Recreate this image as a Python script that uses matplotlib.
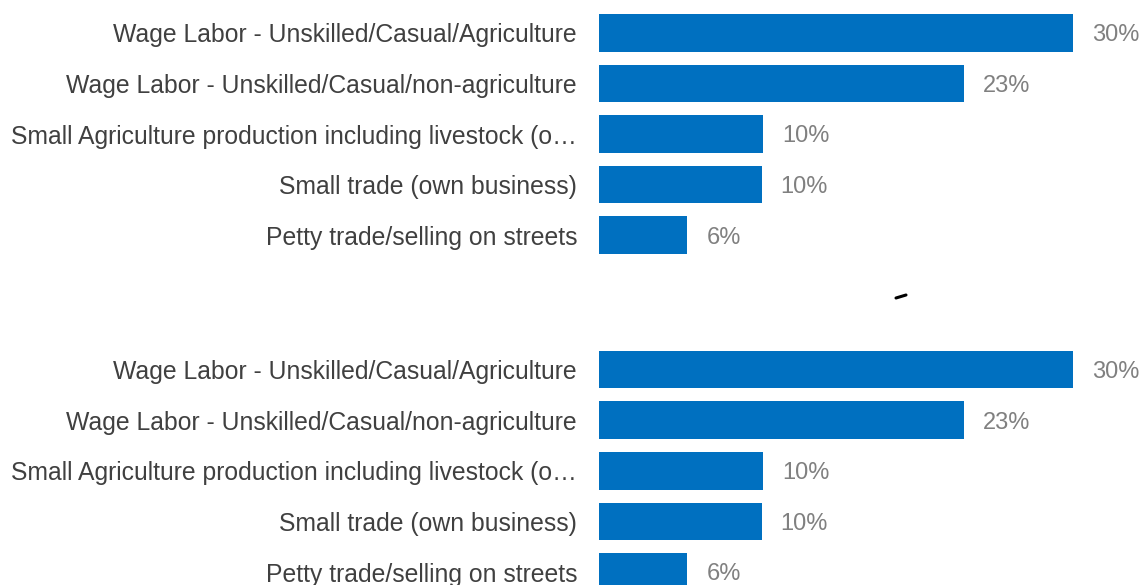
import matplotlib.pyplot as plt
import numpy as np

plt.rcParams.update({
    "font.family": ["Liberation Sans", "DejaVu Sans"],
    "font.size": 17.8,
})

# data
categories = [
    "Wage Labor - Unskilled/Casual/Agriculture",
    "Wage Labor - Unskilled/Casual/non-agriculture",
    "Small Agriculture production including livestock (o\u2026",
    "Small trade (own business)",
    "Petty trade/selling on streets",
]
shares = [30.0, 23.1, 10.4, 10.3, 5.6]

BAR_COLOR = "#0070c0"
LABEL_COLOR = "#404040"
VALUE_COLOR = "#808080"

W, H = 1142, 585
fig = plt.figure(figsize=(W / 100, H / 100), dpi=100)

row_step = 50.6      # pixels between bar centres
px_per_pct = 15.8    # pixels per percentage point
x0 = 599             # left edge of bars in pixels
label_fs = 17.8
value_fs = 17


def cap_shift(fs):
    # half the cap height in pixels, so text sits centred on the bar
    return 0.716 * fs * 100 / 72 / 2


def draw_panel(top_px, bottom_px, first_center):
    ax = fig.add_axes([x0 / W, 1 - bottom_px / H, (W - x0) / W, (bottom_px - top_px) / H])
    y = np.arange(len(categories))
    ax.barh(y, shares, height=0.745, color=BAR_COLOR)
    ax.set_xlim(0, (W - x0) / px_per_pct)
    ax.set_ylim((bottom_px - first_center) / row_step, -(first_center - top_px) / row_step)
    for yi, v, name in zip(y, shares, categories):
        ax.annotate(f"{v:.0f}%", xy=(v, yi), xytext=(19, -cap_shift(value_fs)),
                    textcoords="offset pixels", ha="left", va="baseline",
                    color=VALUE_COLOR, fontsize=value_fs, annotation_clip=False)
        ax.annotate(name, xy=(0, yi), xytext=(-22, -cap_shift(label_fs) - 0.8),
                    textcoords="offset pixels", ha="right", va="baseline",
                    color=LABEL_COLOR, fontsize=label_fs, annotation_clip=False)
    ax.set_xticks([])
    ax.set_yticks([])
    for s in ax.spines.values():
        s.set_visible(False)
    ax.patch.set_alpha(0)
    return ax


draw_panel(0, 292, 32.8)
draw_panel(300, 585, 369.6)

# small stray mark between the two panels
fig.add_artist(plt.Line2D([896 / W, 906 / W], [1 - 298 / H, 1 - 295 / H],
                          color="black", linewidth=2.2, solid_capstyle="round"))

fig.savefig("out.png", dpi=100)
